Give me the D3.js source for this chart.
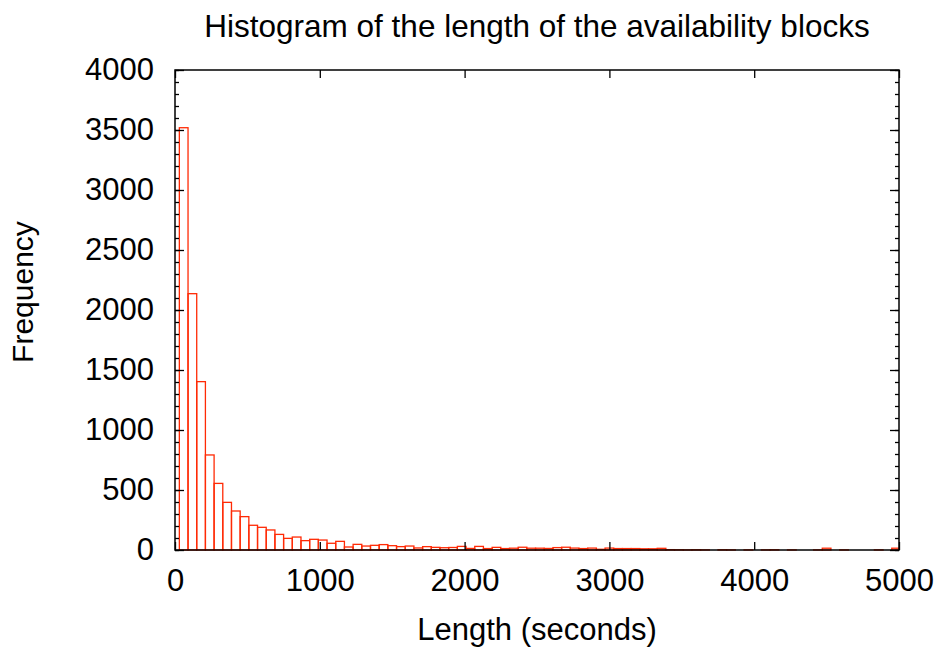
<!DOCTYPE html>
<html lang="en">

<head>
  <meta charset="utf-8">
  <title>Histogram of the length of the availability blocks</title>
  <script src="https://d3js.org/d3.v7.min.js"></script>
  <style>
    body { margin: 0; background: #fff; }
    text { font-family: "Liberation Sans", Arial, Helvetica, sans-serif; fill: #000; }
  </style>
</head>

<body>
  <script>
    // bins are 60 s wide, centred on 60, 120, 180, ... seconds
    var binWidth = 60;
    var frequency = [
      3519, 2136, 1403, 792, 555, 397, 325, 278, 206, 189,
      167, 130, 97, 108, 78, 89, 83, 56, 72, 25,
      47, 33, 39, 45, 36, 28, 33, 17, 28, 22,
      19, 21, 30, 13, 30, 12, 22, 12, 15, 23,
      15, 15, 13, 20, 23, 16, 12, 16, 6, 16,
      12, 12, 12, 10, 10, 14, 3, 2, 1, 2,
      1, 0, 2, 1, 0, 1, 0, 1, 2, 0,
      1, 0, 0, 1, 15, 0, 1, 0, 0, 0,
      1, 0, 15
    ];
    var xTicks = [0, 1000, 2000, 3000, 4000, 5000];
    var yTicks = [0, 500, 1000, 1500, 2000, 2500, 3000, 3500, 4000];
    var yMinorTicks = d3.range(0, 4001, 100);

    var w = 942, h = 652;
    var margin = { top: 70, right: 43, bottom: 102, left: 175 };
    var innerW = w - margin.left - margin.right,
      innerH = h - margin.top - margin.bottom;

    var bins = frequency.map(function (f, i) {
      var c = (i + 1) * binWidth;
      return { x0: c - binWidth / 2, x1: c + binWidth / 2, value: f };
    });

    var x = d3.scaleLinear().domain([0, 5000]).range([0, innerW]);
    var y = d3.scaleLinear().domain([0, 4000]).range([innerH, 0]);
    var fmt = d3.format('d');

    var svg = d3.select('body').append('svg')
      .attr('width', w)
      .attr('height', h);

    svg.append('defs').append('clipPath').attr('id', 'clip')
      .append('rect').attr('width', innerW).attr('height', innerH + 1);

    var g = svg.append('g')
      .attr('transform', 'translate(' + [margin.left, margin.top] + ')');

    // boxes
    g.append('g').attr('clip-path', 'url(#clip)')
      .selectAll('.bar')
      .data(bins)
      .enter().append('rect')
      .attr('class', 'bar')
      .attr('x', function (d) { return x(d.x0); })
      .attr('y', function (d) { return y(d.value); })
      .attr('width', function (d) { return x(d.x1) - x(d.x0); })
      .attr('height', function (d) { return y(0) - y(d.value); })
      .style('fill', 'none')
      .style('stroke', '#ff2a05')
      .style('stroke-width', 1.3);

    // axes: ticks pointing inward, mirrored on top/right
    var tickStyle = function (sel) {
      sel.select('.domain').remove();
      sel.selectAll('.tick line').attr('stroke', '#000').attr('stroke-width', 1.3);
    };

    g.append('g')
      .attr('transform', 'translate(0,' + innerH + ')')
      .call(d3.axisBottom(x).tickValues(xTicks).tickFormat(fmt).tickSizeInner(-8).tickSizeOuter(0).tickPadding(19))
      .call(tickStyle)
      .selectAll('text').style('font-size', '31px').attr('dy', '0.71em');

    g.append('g')
      .call(d3.axisTop(x).tickValues(xTicks).tickSizeInner(-8).tickSizeOuter(0).tickFormat(''))
      .call(tickStyle);

    g.append('g')
      .call(d3.axisLeft(y).tickValues(yMinorTicks).tickSizeInner(-4).tickSizeOuter(0).tickFormat(''))
      .call(tickStyle);
    g.append('g')
      .call(d3.axisLeft(y).tickValues(yTicks).tickFormat(fmt).tickSizeInner(-9).tickSizeOuter(0).tickPadding(21))
      .call(tickStyle)
      .selectAll('text').style('font-size', '31px');

    g.append('g')
      .attr('transform', 'translate(' + innerW + ',0)')
      .call(d3.axisRight(y).tickValues(yMinorTicks).tickSizeInner(-4).tickSizeOuter(0).tickFormat(''))
      .call(tickStyle);
    g.append('g')
      .attr('transform', 'translate(' + innerW + ',0)')
      .call(d3.axisRight(y).tickValues(yTicks).tickSizeInner(-9).tickSizeOuter(0).tickFormat(''))
      .call(tickStyle);

    // frame
    g.append('rect')
      .attr('width', innerW)
      .attr('height', innerH)
      .style('fill', 'none')
      .style('stroke', '#000')
      .style('stroke-width', 1.5);

    // labels
    svg.append('text')
      .attr('x', margin.left + innerW / 2)
      .attr('y', 37)
      .attr('text-anchor', 'middle')
      .style('font-size', '31.5px')
      .text('Histogram of the length of the availability blocks');

    svg.append('text')
      .attr('x', margin.left + innerW / 2)
      .attr('y', 640)
      .attr('text-anchor', 'middle')
      .style('font-size', '31px')
      .text('Length (seconds)');

    svg.append('text')
      .attr('transform', 'translate(33,292) rotate(-90)')
      .attr('text-anchor', 'middle')
      .style('font-size', '30px')
      .text('Frequency');
  </script>
</body>

</html>
